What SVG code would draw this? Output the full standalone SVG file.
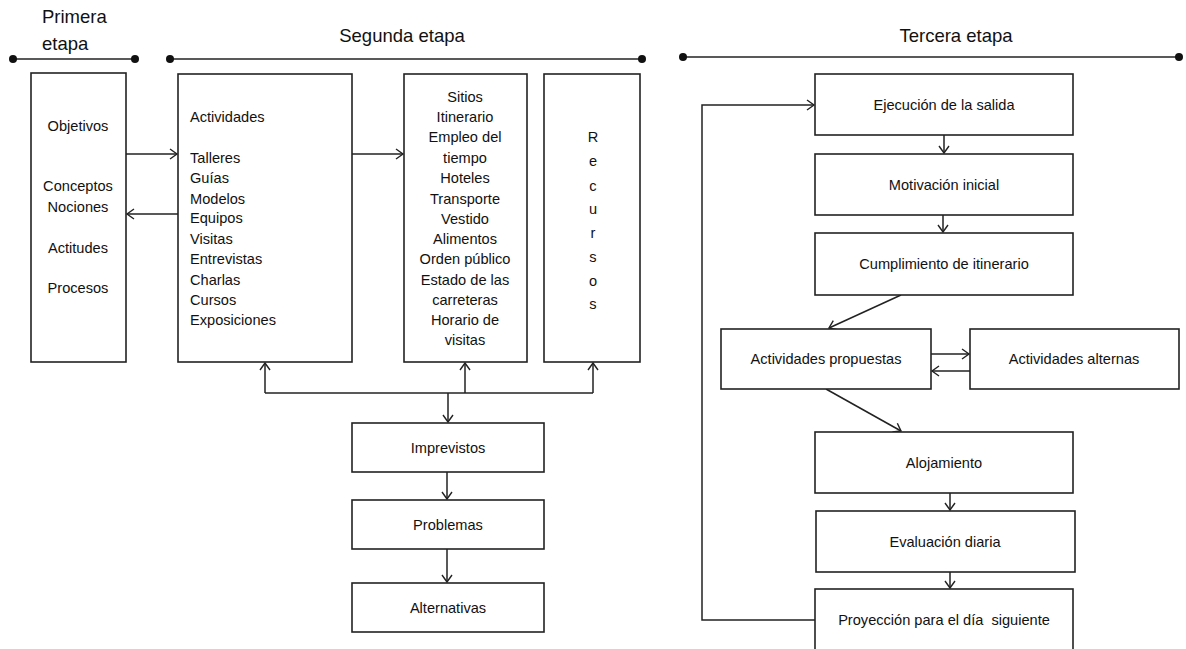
<svg xmlns="http://www.w3.org/2000/svg" width="1186" height="649" viewBox="0 0 1186 649">
<style>
.bx{fill:#fff;stroke:#222;stroke-width:1.6}
.t{font-family:"Liberation Sans",Arial,sans-serif;font-size:14.6px;fill:#111}
.c{text-anchor:middle}
.h{font-family:"Liberation Sans",Arial,sans-serif;font-size:18.5px;fill:#111}
.ln{fill:none;stroke:#222;stroke-width:1.5}
.ar{fill:none;stroke:#222;stroke-width:1.5;marker-end:url(#a)}
</style>
<defs>
<marker id="a" markerWidth="12" markerHeight="12" refX="9" refY="6" orient="auto" markerUnits="userSpaceOnUse">
<path d="M2,1 L9,6 L2,11" fill="none" stroke="#222" stroke-width="1.4"/>
</marker>
</defs>
<g id="headers">
<text class="h" x="42" y="23">Primera</text>
<text class="h" x="42" y="50">etapa</text>
<line class="ln" x1="13" y1="59" x2="135" y2="59"/>
<circle cx="13" cy="59" r="4" fill="#111"/><circle cx="135" cy="59" r="4" fill="#111"/>
<text class="h c" x="402" y="42">Segunda etapa</text>
<line class="ln" x1="170" y1="59" x2="642" y2="59"/>
<circle cx="170" cy="59" r="4" fill="#111"/><circle cx="642" cy="59" r="4" fill="#111"/>
<text class="h c" x="956" y="42">Tercera etapa</text>
<line class="ln" x1="683" y1="57" x2="1179" y2="57"/>
<circle cx="683" cy="57" r="4" fill="#111"/><circle cx="1179" cy="57" r="4" fill="#111"/>
</g>
<g id="connectors">
<path class="ar" d="M126,154 H177"/>
<path class="ar" d="M178,214 H127"/>
<path class="ar" d="M352,154 H403"/>
<path class="ln" d="M265,393 H593"/>
<path class="ar" d="M265,393 V363"/>
<path class="ar" d="M465,393 V363"/>
<path class="ar" d="M593,393 V363"/>
<path class="ar" d="M448,393 V422"/>
<path class="ar" d="M447,472 V499"/>
<path class="ar" d="M447,549 V582"/>
<path class="ar" d="M944,135 V153"/>
<path class="ar" d="M943,215 V232"/>
<path class="ar" d="M901,295 L829,328"/>
<path class="ar" d="M931,354 H969"/>
<path class="ar" d="M970,371 H932"/>
<path class="ar" d="M826,389 L901,431"/>
<path class="ar" d="M950,493 V510"/>
<path class="ar" d="M950,572 V588"/>
<path class="ar" d="M815,620 H702 V105 H814"/>
</g>
<g id="objetivos">
<rect class="bx" x="31" y="73" width="95" height="289"/>
<text class="t c" x="78" y="131">Objetivos</text>
<text class="t c" x="78" y="191">Conceptos</text>
<text class="t c" x="78" y="212">Nociones</text>
<text class="t c" x="78" y="253">Actitudes</text>
<text class="t c" x="78" y="293">Procesos</text>
</g>
<g id="actividades">
<rect class="bx" x="178" y="74" width="174" height="288"/>
<text class="t" x="190" y="122">Actividades</text>
<text class="t" x="190" y="163">Talleres</text>
<text class="t" x="190" y="183">Guías</text>
<text class="t" x="190" y="204">Modelos</text>
<text class="t" x="190" y="223">Equipos</text>
<text class="t" x="190" y="244">Visitas</text>
<text class="t" x="190" y="264">Entrevistas</text>
<text class="t" x="190" y="285">Charlas</text>
<text class="t" x="190" y="305">Cursos</text>
<text class="t" x="190" y="325">Exposiciones</text>
</g>
<g id="sitios">
<rect class="bx" x="404" y="74" width="123" height="288"/>
<text class="t c" x="465" y="102">Sitios</text>
<text class="t c" x="465" y="122">Itinerario</text>
<text class="t c" x="465" y="142">Empleo del</text>
<text class="t c" x="465" y="163">tiempo</text>
<text class="t c" x="465" y="183">Hoteles</text>
<text class="t c" x="465" y="204">Transporte</text>
<text class="t c" x="465" y="224">Vestido</text>
<text class="t c" x="465" y="244">Alimentos</text>
<text class="t c" x="465" y="264">Orden público</text>
<text class="t c" x="465" y="285">Estado de las</text>
<text class="t c" x="465" y="305">carreteras</text>
<text class="t c" x="465" y="325">Horario de</text>
<text class="t c" x="465" y="345">visitas</text>
</g>
<g id="recursos">
<rect class="bx" x="544" y="74" width="96" height="288"/>
<text class="t c" x="593" y="142">R</text>
<text class="t c" x="593" y="166">e</text>
<text class="t c" x="593" y="191">c</text>
<text class="t c" x="593" y="214">u</text>
<text class="t c" x="593" y="238">r</text>
<text class="t c" x="593" y="262">s</text>
<text class="t c" x="593" y="286">o</text>
<text class="t c" x="593" y="309">s</text>
</g>
<g id="imprevistos">
<rect class="bx" x="352" y="423" width="192" height="49"/>
<text class="t c" x="448" y="453">Imprevistos</text>
</g>
<g id="problemas">
<rect class="bx" x="352" y="500" width="192" height="49"/>
<text class="t c" x="448" y="530">Problemas</text>
</g>
<g id="alternativas">
<rect class="bx" x="352" y="583" width="192" height="49"/>
<text class="t c" x="448" y="613">Alternativas</text>
</g>
<g id="ejecucion">
<rect class="bx" x="815" y="74" width="258" height="61"/>
<text class="t c" x="944" y="110">Ejecución de la salida</text>
</g>
<g id="motivacion">
<rect class="bx" x="815" y="154" width="258" height="61"/>
<text class="t c" x="944" y="190">Motivación inicial</text>
</g>
<g id="cumplimiento">
<rect class="bx" x="815" y="233" width="258" height="62"/>
<text class="t c" x="944" y="269">Cumplimiento de itinerario</text>
</g>
<g id="act-propuestas">
<rect class="bx" x="721" y="329" width="210" height="60"/>
<text class="t c" x="826" y="364">Actividades propuestas</text>
</g>
<g id="act-alternas">
<rect class="bx" x="970" y="329" width="209" height="60"/>
<text class="t c" x="1074" y="364">Actividades alternas</text>
</g>
<g id="alojamiento">
<rect class="bx" x="815" y="432" width="258" height="61"/>
<text class="t c" x="944" y="468">Alojamiento</text>
</g>
<g id="evaluacion">
<rect class="bx" x="816" y="511" width="259" height="61"/>
<text class="t c" x="945" y="547">Evaluación diaria</text>
</g>
<g id="proyeccion">
<rect class="bx" x="815" y="589" width="258" height="62"/>
<text class="t c" x="944" y="625" xml:space="preserve" style="white-space:pre">Proyección para el día  siguiente</text>
</g>
</svg>
